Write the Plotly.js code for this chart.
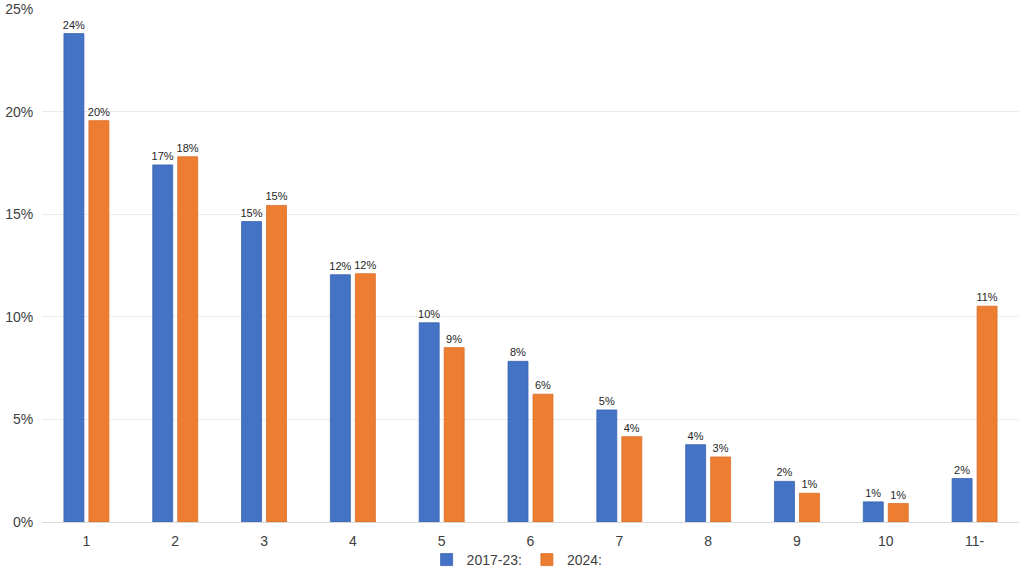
<!DOCTYPE html>
<html>
<head>
<meta charset="utf-8">
<script src="https://cdn.plot.ly/plotly-3.0.1.min.js"></script>
<style>html,body{margin:0;padding:0;background:#fff}#chart{width:1024px;height:576px}</style>
</head>
<body>
<div id="chart"></div>
<script>
const categories = ["1","2","3","4","5","6","7","8","9","10","11-"];
const series2017_23 = [23.8, 17.4, 14.64, 12.05, 9.71, 7.83, 5.46, 3.77, 1.98, 0.98, 2.12];
const series2024 = [19.56, 17.8, 15.43, 12.1, 8.5, 6.23, 4.16, 3.17, 1.40, 0.9, 10.52];
const seriesNames = ["2017-23:", "2024:"];
const yTickVals = [0, 5, 10, 15, 20, 25];
const yTickText = ["0%", "5%", "10%", "15%", "20%", "25%"];

const font = "Liberation Sans, Arial, sans-serif";
const labelText = arr => arr.map(v => Math.round(v) + "%");

const traces = [
  {
    type: "bar", name: seriesNames[0], x: categories, y: series2017_23,
    marker: {color: "#4472C4", line: {color: "#3A64B0", width: 0.8}},
    text: labelText(series2017_23), textposition: "outside", cliponaxis: false,
    constraintext: "none",
    textfont: {family: font, size: 11, color: "#262626"}, hoverinfo: "x+y"
  },
  {
    type: "bar", name: seriesNames[1], x: categories, y: series2024,
    marker: {color: "#ED7D31", line: {color: "#D9702A", width: 0.8}},
    text: labelText(series2024), textposition: "outside", cliponaxis: false,
    constraintext: "none",
    textfont: {family: font, size: 11, color: "#262626"}, hoverinfo: "x+y"
  }
];

const layout = {
  width: 1024, height: 576,
  margin: {l: 42, r: 5, t: 9, b: 54, autoexpand: false},
  paper_bgcolor: "#fff", plot_bgcolor: "#fff",
  barmode: "group", bargap: 0.4375, bargroupgap: 0.2,
  showlegend: true,
  legend: {orientation: "h", x: 0.505, xanchor: "center", xref: "container",
           y: -0.022, yanchor: "bottom", yref: "container",
           bgcolor: "rgba(0,0,0,0)",
           font: {family: font, size: 14, color: "#404040"}, traceorder: "normal",
           itemwidth: 30},
  xaxis: {type: "category", tickfont: {family: font, size: 14, color: "#404040"},
          showgrid: false, showline: true, linecolor: "#D9D9D9", linewidth: 1,
          ticks: "outside", ticklen: 6, tickcolor: "rgba(0,0,0,0)", automargin: false},
  yaxis: {range: [0, 25], tickvals: yTickVals, ticktext: yTickText,
          tickfont: {family: font, size: 14, color: "#404040"},
          showgrid: true, gridcolor: "#EBEBEB", gridwidth: 1, zeroline: false,
          showline: false, ticks: "outside", ticklen: 5, tickcolor: "rgba(0,0,0,0)",
          fixedrange: true, automargin: false}
};

Plotly.newPlot("chart", traces, layout, {displayModeBar: false, staticPlot: true});
</script>
</body>
</html>
